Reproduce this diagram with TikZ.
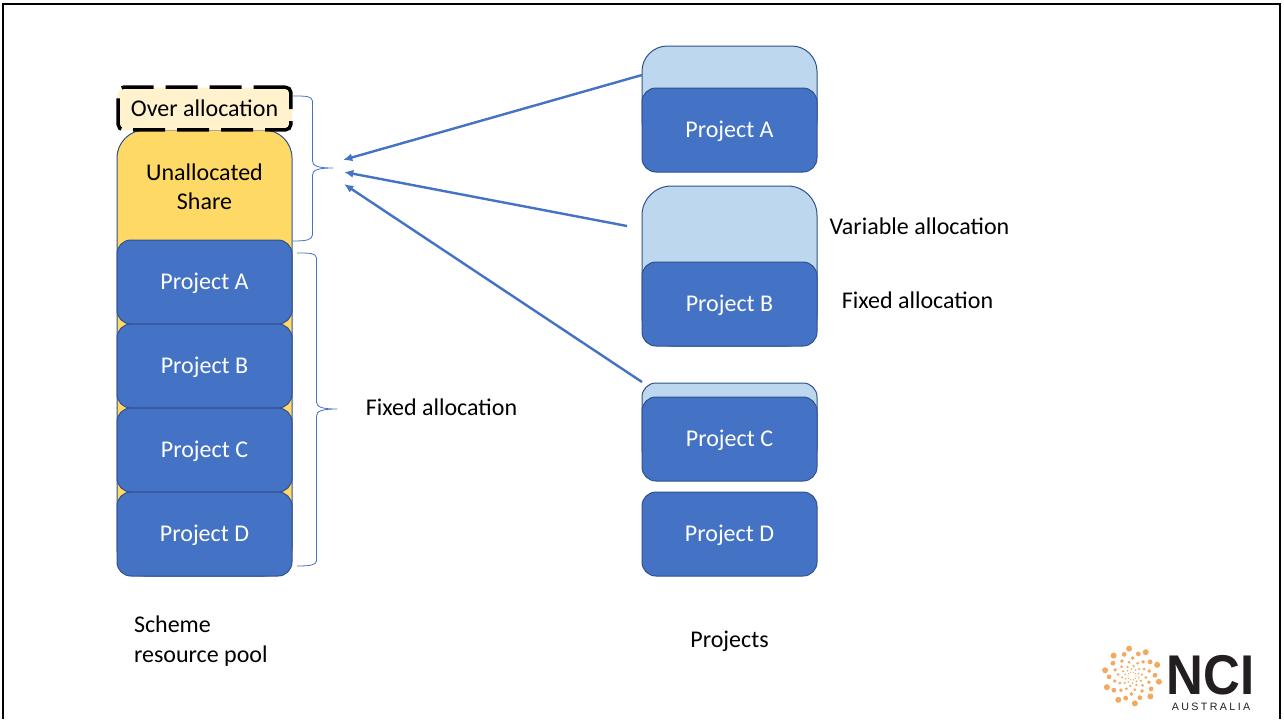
\documentclass[tikz,border=0pt]{standalone}
\usepackage{fontspec}
\setmainfont{Carlito}
\newfontfamily\logofont{Liberation Sans}
\usetikzlibrary{arrows.meta}
\definecolor{pblue}{HTML}{4472C4}
\definecolor{pedge}{HTML}{2F528F}
\definecolor{pyellow}{HTML}{FFD966}
\definecolor{plight}{HTML}{BDD7EE}
\definecolor{pcream}{HTML}{FFF2CC}
\definecolor{porange}{HTML}{F4A860}
\definecolor{pdark}{HTML}{231F20}
\tikzset{
  x=0.75pt,y=-0.75pt,
  every node/.style={inner sep=0pt,outer sep=0pt,font=\fontsize{18}{22}\selectfont},
  projbox/.style={draw=pedge,line width=0.75pt,fill=pblue,text=white,minimum width=131.25pt,minimum height=63pt,rounded corners=10.5pt,text height=14.6pt,text depth=3.4pt},
  backbox/.style={draw=pedge,line width=0.75pt,fill=plight,minimum width=131.25pt,rounded corners=#1},
  poolbox/.style={draw=pedge,line width=0.75pt,fill=pyellow,minimum width=131.25pt,minimum height=334.5pt,rounded corners=21pt},
  creambox/.style={fill=pcream,minimum width=131.25pt,minimum height=32pt,rounded corners=7pt},
  overbox/.style={draw=black,line width=2.6pt,dash pattern=on 24pt off 9pt,minimum width=129.5pt,minimum height=32pt,rounded corners=4pt},
  label/.style={text=black,align=left},
  feed/.style={draw=pblue,line width=1.8pt,-{Latex[length=7pt,width=6pt]}},
  bracket/.style={draw=pblue,line width=0.6pt,line join=round},
  dot/.style={fill=porange,draw=none},
}
\begin{document}
\begin{tikzpicture}
\useasboundingbox (0,0) rectangle (1284,719);
\fill[white] (0,0) rectangle (1284,719);
\draw[black,line width=1.7pt] (3,719) -- (3,4) -- (1280,4) -- (1280,719);

% left pool
\node[poolbox] (pool) at (204.5,353) {};
\node[creambox] (creamtop) at (204.5,109) {};
\node[overbox] (over) at (204.5,108.5) {};
\node[label] (overtext) at (204.5,108.5) {Over allocation};
\node[label,align=center] (unalloc) at (204.5,186.5) {Unallocated\\Share};
\node[projbox] (pa) at (204.5,282) {Project A};
\node[projbox] (pb) at (204.5,366) {Project B};
\node[projbox] (pc) at (204.5,450) {Project C};
\node[projbox] (pd) at (204.5,534) {Project D};

% right projects
\node[backbox=19pt,minimum height=75pt] (bka) at (729.5,96) {};
\node[projbox] (ra) at (729.5,130) {Project A};
\node[backbox=22pt,minimum height=120pt] (bkb) at (729.5,266) {};
\node[projbox] (rb) at (729.5,304) {Project B};
\node[backbox=10.5pt,minimum height=60pt] (bkc) at (729.5,423) {};
\node[projbox] (rc) at (729.5,439) {Project C};
\node[projbox] (rd) at (729.5,534) {Project D};

% labels
\node[label] (fixl) at (441.5,407.5) {Fixed allocation};
\node[label] (varr) at (919.5,226.5) {Variable allocation};
\node[label] (fixr) at (917.5,300.5) {Fixed allocation};
\node[label,anchor=west] (scheme) at (134,641) {Scheme\\resource pool};
\node[label] (projs) at (729.5,641.5) {Projects};

% brackets
\coordinate (b1t) at (293,96);
\coordinate (b1m) at (333,168);
\coordinate (b1b) at (293,241);
\draw[bracket] (b1t) .. controls (306,96) and (312,96) .. (312.5,101) -- (312.5,161)
  .. controls (312.5,166) and (318,168) .. (b1m)
  .. controls (318,168) and (312.5,170) .. (312.5,175) -- (312.5,235)
  .. controls (312,240) and (306,241) .. (b1b);
\coordinate (b2t) at (297,253);
\coordinate (b2m) at (337,409);
\coordinate (b2b) at (297,566);
\draw[bracket] (b2t) .. controls (310,253) and (316,253) .. (316.5,258) -- (316.5,402)
  .. controls (316.5,407) and (322,409) .. (b2m)
  .. controls (322,409) and (316.5,411) .. (316.5,416) -- (316.5,561)
  .. controls (316,565) and (310,566) .. (b2b);

% arrows
\coordinate (fa) at (642,75);
\coordinate (fb) at (627,226);
\coordinate (fc) at (642,382);
\coordinate (ta) at (343,160);
\coordinate (tb) at (344,172);
\coordinate (tc) at (344,184);
\draw[feed] (fa) -- (ta);
\draw[feed] (fb) -- (tb);
\draw[feed] (fc) -- (tc);

% logo
\foreach \r/\s/\o in {4/0.7/0,7/0.9/14,10/1.2/28,14/1.5/42,18/1.9/56,23/2.4/70,27.5/3.0/84}{
  \foreach \k in {0,36,...,324}{
    \fill[dot] ({1132+\r*cos(\k+\o)},{676+\r*sin(\k+\o)}) circle[radius=\s];
  }
}
\node[text=pdark,anchor=center,xscale=0.91,font={\logofont\bfseries\fontsize{42}{42}\selectfont}] (nci) at (1210.5,675) {NCI};
\node[text=pdark,font={\logofont\fontsize{8}{9}\selectfont}] (aus) at (1211,706.5) {A\hspace{1.8pt}U\hspace{1.8pt}S\hspace{1.8pt}T\hspace{1.8pt}R\hspace{1.8pt}A\hspace{1.8pt}L\hspace{1.8pt}I\hspace{1.8pt}A};
\end{tikzpicture}
\end{document}
